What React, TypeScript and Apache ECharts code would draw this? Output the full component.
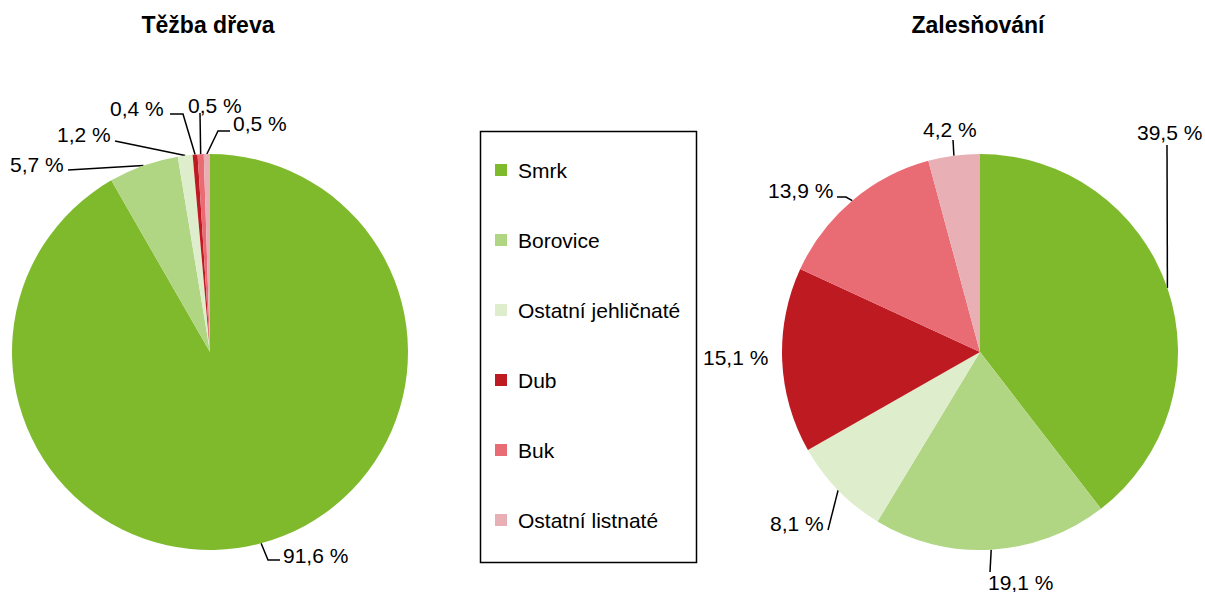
import React, { useEffect, useRef } from "react";
import * as echarts from "echarts";

const categories = ["Smrk", "Borovice", "Ostatní jehličnaté", "Dub", "Buk", "Ostatní listnaté"];
const harvestValues = [91.6, 5.7, 1.2, 0.4, 0.5, 0.5];
const afforestValues = [39.5, 19.1, 8.1, 15.1, 13.9, 4.2];
const sliceColors = ["#7fba2d", "#b0d684", "#deedcc", "#be1a22", "#e96b73", "#e8afb4"];
const titles = ["Těžba dřeva", "Zalesňování"];

// label layout (positions of the value labels and their leader lines)
const harvestLabelPos = [[283, 555], [10, 164], [57, 134], [110, 108], [188, 105], [233, 123]];
const harvestLinePath: (number[][] | null)[] = [
  [[268, 560], [280, 560]],
  [[68, 170]],
  [[115, 141]],
  [[183, 114], [170, 114]],
  [[200, 113]],
  [[218, 131], [230, 131]],
];
const afforestLabelPos = [[1137, 132], [988, 582], [770, 523], [703, 357], [768, 190], [923, 129]];
const afforestLinePath: (number[][] | null)[] = [
  [[1167, 145]],
  [[990, 572]],
  [[828, 530]],
  null,
  [[846, 197], [837, 197]],
  [[953, 140]],
];

const FONT = "'Liberation Sans', Arial, sans-serif";

function fmt(v: number) {
  return v.toFixed(1).replace(".", ",") + " %";
}

function makePie(values: number[], center: number[], pos: number[][], paths: (number[][] | null)[]) {
  return {
    type: "pie",
    radius: 198,
    center,
    startAngle: 90,
    clockwise: true,
    avoidLabelOverlap: false,
    emphasis: { disabled: true },
    itemStyle: { borderWidth: 0 },
    label: {
      show: true,
      position: "outside",
      color: "#000",
      fontSize: 21,
      fontFamily: FONT,
      formatter: (p: any) => fmt(p.value),
    },
    labelLine: { show: true, length: 10, length2: 10, lineStyle: { color: "#000", width: 1.5 } },
    labelLayout: (params: any) => {
      const i = params.dataIndex;
      const res: any = { x: pos[i][0], y: pos[i][1], align: "left", verticalAlign: "middle" };
      const path = paths[i];
      if (path && params.labelLinePoints) {
        res.labelLinePoints = [params.labelLinePoints[0], ...path];
      }
      return res;
    },
    data: categories.map((name, i) => ({
      name,
      value: values[i],
      itemStyle: { color: sliceColors[i] },
      labelLine: { show: paths[i] !== null },
    })),
  };
}

export default function App() {
  const ref = useRef<HTMLDivElement>(null);
  useEffect(() => {
    if (!ref.current) return;
    const chart = echarts.init(ref.current, null, { renderer: "svg" });
    chart.setOption({
      animation: false,
      backgroundColor: "#fff",
      title: [
        {
          text: titles[0],
          left: 208,
          top: 13,
          padding: 0,
          textAlign: "center",
          textStyle: { fontSize: 23, fontWeight: "bold", color: "#000", fontFamily: FONT },
        },
        {
          text: titles[1],
          left: 978,
          top: 13,
          padding: 0,
          textAlign: "center",
          textStyle: { fontSize: 23, fontWeight: "bold", color: "#000", fontFamily: FONT },
        },
      ],
      legend: {
        orient: "vertical",
        left: 495,
        top: 158,
        padding: 0,
        icon: "rect",
        itemWidth: 12,
        itemHeight: 12,
        itemGap: 46,
        selectedMode: false,
        data: categories,
        textStyle: {
          fontSize: 21,
          lineHeight: 24,
          color: "#000",
          fontFamily: FONT,
          padding: [0, 0, 0, 6],
        },
      },
      graphic: [
        {
          type: "rect",
          shape: { x: 480.5, y: 131.5, width: 216, height: 431 },
          style: { fill: "none", stroke: "#000", lineWidth: 1.5 },
          silent: true,
        },
      ],
      series: [
        makePie(harvestValues, [210, 352], harvestLabelPos, harvestLinePath),
        makePie(afforestValues, [980, 352], afforestLabelPos, afforestLinePath),
      ],
    });
    return () => chart.dispose();
  }, []);
  return (
    <div
      ref={ref}
      style={{ position: "fixed", left: 0, top: 0, width: 1205, height: 592, background: "#fff" }}
    />
  );
}
